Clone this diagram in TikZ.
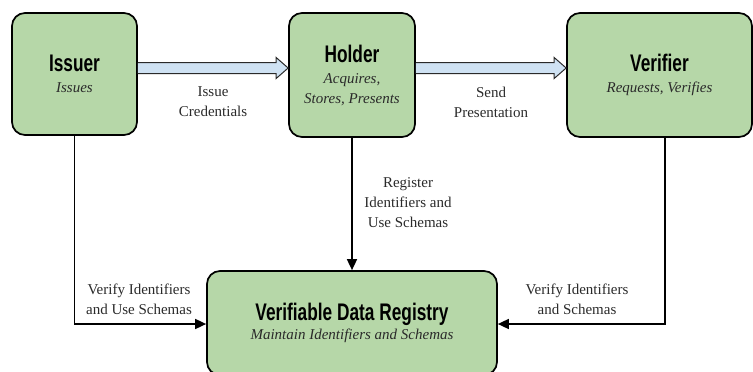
\documentclass[tikz,border=0pt]{standalone}
\usepackage{fontspec}
\setmainfont{Liberation Serif}
\newfontfamily\headfont[FakeStretch=0.72]{Liberation Sans}
\usetikzlibrary{arrows.meta,calc}

\definecolor{boxgreen}{HTML}{B6D7A8}
\definecolor{arrowblue}{HTML}{CFE2F3}
\definecolor{inkgray}{HTML}{2A2A2A}

% heading and role lines inside the actor boxes
\newcommand\heading[1]{{\headfont\bfseries\fontsize{24}{26}\selectfont #1}}
\newcommand\bigheading[1]{{\headfont\bfseries\fontsize{24}{26}\selectfont #1}}
\newcommand\role[1]{{\itshape\color{inkgray}#1}}

\begin{document}
\begin{tikzpicture}[x=1pt,y=-1pt,
  actor/.style={draw=black, line width=1.7pt, fill=boxgreen, rounded corners=13pt,
                inner sep=0pt, align=center, text=black,
                font=\fontsize{15}{20}\selectfont},
  lbl/.style={font=\fontsize{15}{20}\selectfont, text=inkgray, align=center, inner sep=0pt},
  link/.style={line width=1.6pt, draw=black, -{Triangle[length=11pt,width=10pt]}},
  fat/.style={draw=inkgray, line width=1pt, fill=arrowblue, line join=miter}]

\useasboundingbox (0,0) rectangle (753,372);

% actors
\node[actor, minimum width=125pt, minimum height=122pt] (issuer) at (74.5,74)
  {\heading{Issuer}\\[1pt] \role{Issues}};
\node[actor, minimum width=126pt, minimum height=124pt] (holder) at (352,75)
  {\heading{Holder}\\[1pt] \role{Acquires,}\\ \role{Stores, Presents}};
\node[actor, minimum width=185pt, minimum height=124pt] (verifier) at (659.5,75)
  {\heading{Verifier}\\[1pt] \role{Requests, Verifies}};
\node[actor, minimum width=290pt, minimum height=104pt] (registry) at (352,323)
  {\bigheading{Verifiable Data Registry}\\[-1pt] \role{Maintain Identifiers and Schemas}};

% wide block arrows between the actors
\coordinate (fy) at (0,68);
\foreach \s/\t in {issuer/holder, holder/verifier}{
  \coordinate (a) at (\s.east |- fy);
  \coordinate (b) at (\t.west |- fy);
  \draw[fat] ($(a)+(0,-5.5)$) -- ($(b)+(-12,-5.5)$) -- ($(b)+(-12,-10.5)$) -- (b)
     -- ($(b)+(-12,10.5)$) -- ($(b)+(-12,5.5)$) -- ($(a)+(0,5.5)$);
}
\node[lbl] (lblissue) at (213,102) {Issue\\Credentials};
\node[lbl] (lblsend) at (491,102) {Send\\Presentation};

% connectors to the registry
\coordinate (iy) at (0,324);
\coordinate (ic) at (issuer.south |- iy);
\coordinate (vc) at (665,324);
\coordinate (vt) at (verifier.south -| vc);
\draw[link] (issuer.south) -- (ic) -- (registry.west |- iy);
\draw[link] (holder.south) -- (registry.north);
\draw[link] (vt) -- (vc) -- (registry.east |- iy);

\node[lbl] (lblreg) at (408,203) {Register\\Identifiers and\\Use Schemas};
\node[lbl] (lblvi) at (139,299) {Verify Identifiers\\and Use Schemas};
\node[lbl] (lblvv) at (577,299) {Verify Identifiers\\and Schemas};
\end{tikzpicture}
\end{document}
